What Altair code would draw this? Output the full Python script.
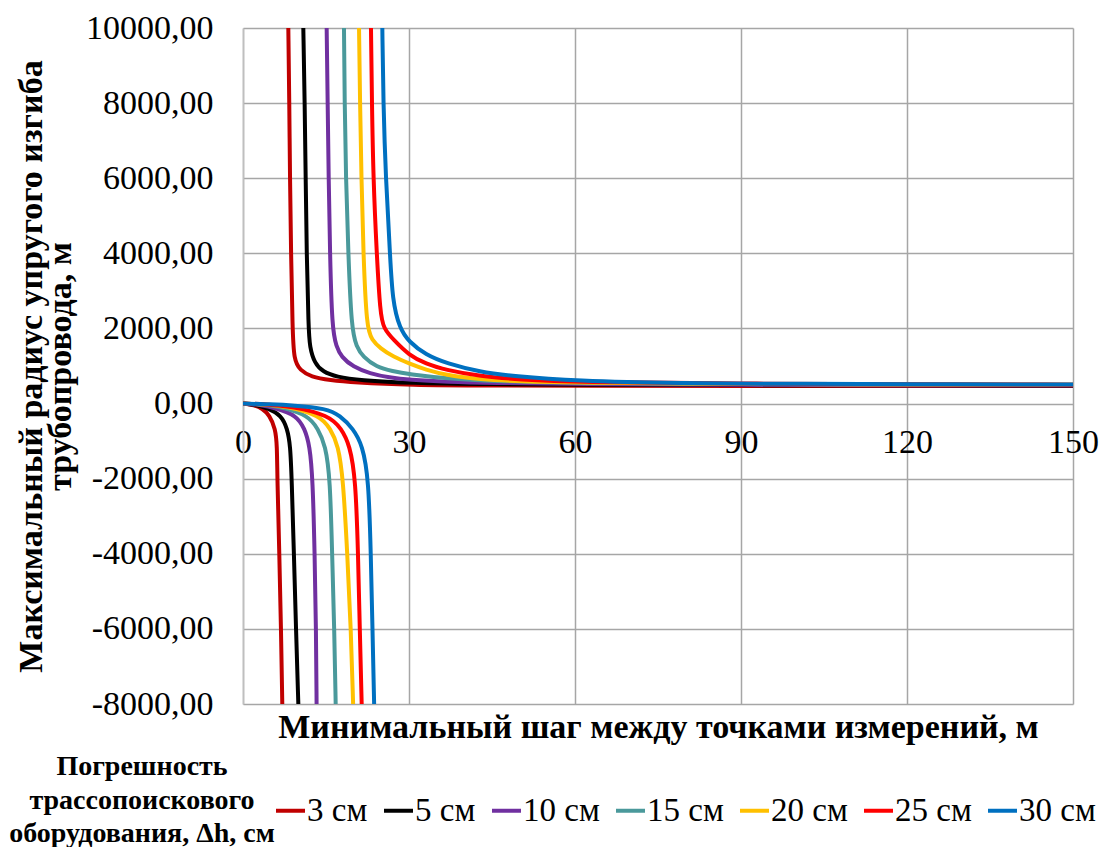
import altair as alt
import pandas as pd

# Series: measurement error of the pipe-locating equipment, Δh
series_names = ["3 см", "5 см", "10 см", "15 см", "20 см", "25 см", "30 см"]
series_colors = ["#C00000", "#000000", "#7030A0", "#4A999B", "#FFC000", "#FF0000", "#0070C0"]
legend_title = "Погрешность\nтрассопоискового\nоборудования, Δh, см"

# Lower branch (step below the critical value, negative radius)
neg_x_3 = [0, 2.0, 3.5, 4.8, 5.85, 6.15, 6.2, 6.57, 6.87, 7.1]
neg_y_3 = [0, -40, -130, -312, -667, -1112, -2000, -4000, -6000, -8000]
neg_x_5 = [0, 2.5, 4.5, 6.93, 8.0, 8.55, 8.8, 9.2, 9.58, 10.0]
neg_y_5 = [0, -33, -127, -312, -667, -1112, -2000, -4000, -6000, -8000]
neg_x_10 = [0, 3, 6, 9.64, 11.15, 12.05, 12.6, 12.95, 13.2, 13.3]
neg_y_10 = [0, -26, -123, -312, -667, -1112, -2000, -4000, -6000, -8000]
neg_x_15 = [0, 3, 7, 11.75, 13.55, 14.9, 15.75, 16.1, 16.5, 16.75]
neg_y_15 = [0, -15, -90, -312, -667, -1112, -2000, -4000, -6000, -8000]
neg_x_20 = [0, 4, 8, 13.85, 15.8, 17.2, 18.1, 18.85, 19.5, 19.9]
neg_y_20 = [0, -20, -80, -312, -667, -1112, -2000, -4000, -6000, -8000]
neg_x_25 = [0, 4, 9, 15.5, 17.8, 19.3, 20.35, 20.8, 21.1, 21.45]
neg_y_25 = [0, -15, -80, -312, -667, -1112, -2000, -4000, -6000, -8000]
neg_x_30 = [0, 5, 9, 15.1, 17.5, 19.9, 21.6, 22.7, 23.1, 23.4, 23.7]
neg_y_30 = [0, -20, -45, -133, -312, -667, -1112, -2000, -4000, -6000, -8000]

# Upper branch (step above the critical value, positive radius)
pos_x_3 = [8.19, 8.37, 8.49, 8.68, 8.95, 9.2, 10.3, 12.3, 15.7, 20, 30, 45, 60, 90, 120, 150]
pos_y_3 = [10000, 8000, 6000, 4000, 2000, 1150, 890, 710, 620, 560, 495, 480, 475, 470, 468, 466]
pos_x_5 = [10.9, 11.15, 11.33, 11.5, 11.85, 12.05, 12.95, 14.46, 16.9, 21.1, 30, 45, 60, 90, 120, 150]
pos_y_5 = [10000, 8000, 6000, 4000, 2000, 1510, 1067, 843, 710, 621, 545, 515, 500, 490, 485, 480]
pos_x_10 = [15.12, 15.3, 15.48, 15.72, 16.1, 16.87, 17.77, 19.9, 22.9, 26.5, 30, 37, 45, 60, 90, 120, 150]
pos_y_10 = [10000, 8000, 6000, 4000, 2000, 1510, 1243, 976, 800, 690, 630, 577, 550, 515, 497, 490, 486]
pos_x_15 = [18.25, 18.37, 18.6, 19.03, 19.6, 20.5, 21.7, 24.1, 27, 30, 36.8, 45, 60, 90, 120, 150]
pos_y_15 = [10000, 8000, 6000, 4000, 2000, 1510, 1243, 976, 860, 780, 666, 600, 545, 515, 505, 498]
pos_x_20 = [20.97, 21.15, 21.4, 21.75, 22.35, 23.3, 24.8, 27.2, 30, 33, 36.8, 42.8, 50, 60, 90, 120, 150]
pos_y_20 = [10000, 8000, 6000, 4000, 2000, 1700, 1467, 1243, 1067, 900, 755, 640, 590, 555, 520, 505, 498]
pos_x_25 = [23.13, 23.3, 23.55, 24.16, 24.8, 25.4, 27.2, 30, 33, 36.8, 42.8, 50, 60, 90, 120, 150]
pos_y_25 = [10000, 8000, 6000, 4000, 2400, 2000, 1700, 1288, 1060, 888, 728, 640, 570, 530, 512, 503]
pos_x_30 = [25.18, 25.36, 25.8, 26.57, 27.0, 28.3, 30, 33, 36.8, 42.8, 48.9, 60, 79, 100, 120, 150]
pos_y_30 = [10000, 8000, 6000, 4000, 2750, 2000, 1643, 1300, 1067, 843, 728, 605, 540, 525, 515, 507]

branches = [
    ("3 см", neg_x_3, neg_y_3, pos_x_3, pos_y_3),
    ("5 см", neg_x_5, neg_y_5, pos_x_5, pos_y_5),
    ("10 см", neg_x_10, neg_y_10, pos_x_10, pos_y_10),
    ("15 см", neg_x_15, neg_y_15, pos_x_15, pos_y_15),
    ("20 см", neg_x_20, neg_y_20, pos_x_20, pos_y_20),
    ("25 см", neg_x_25, neg_y_25, pos_x_25, pos_y_25),
    ("30 см", neg_x_30, neg_y_30, pos_x_30, pos_y_30),
]

rows = []
for name, nx, ny, px, py in branches:
    for x, y in zip(nx, ny):
        rows.append({"series": name, "branch": name + " neg", "x": x, "y": y})
    for x, y in zip(px, py):
        rows.append({"series": name, "branch": name + " pos", "x": x, "y": y})
df = pd.DataFrame(rows)

x_ticks = [0, 30, 60, 90, 120, 150]
y_ticks = [-8000, -6000, -4000, -2000, 0, 2000, 4000, 6000, 8000, 10000]

FONT = "Times New Roman, Liberation Serif, DejaVu Serif, serif"
GRID = "#A6A6A6"

lines = alt.Chart(df).mark_line(interpolate="basis", strokeWidth=4, clip=True).encode(
    x=alt.X(
        "x:Q",
        scale=alt.Scale(domain=[0, 150], nice=False, zero=False),
        axis=alt.Axis(
            values=x_ticks, format="d", offset=-300, ticks=False, tickSize=0, domain=False,
            grid=True, gridColor=GRID, gridWidth=1.5,
            labelFont=FONT, labelFontSize=34, labelColor="black", labelPadding=21,
            labelFlush=False, labelOverlap=False,
            title="Минимальный шаг между точками измерений, м",
            titleFont=FONT, titleFontSize=34, titleFontWeight="bold", titleColor="black",
            titleY=323, titleBaseline="middle",
        ),
    ),
    y=alt.Y(
        "y:Q",
        scale=alt.Scale(domain=[-8000, 10000], nice=False, zero=False),
        axis=alt.Axis(
            values=y_ticks, ticks=False, tickSize=0, domain=True, domainColor="#BFBFBF", domainWidth=1.5,
            grid=True, gridColor=GRID, gridWidth=1.5,
            labelExpr="(datum.value < 0 ? '-' : '') + replace(format(abs(datum.value), '.2f'), '.', ',')",
            labelFont=FONT, labelFontSize=34, labelColor="black", labelPadding=30,
            title=["Максимальный радиус упругого изгиба", "трубопровода, м"],
            titleFont=FONT, titleFontSize=34, titleFontWeight="bold", titleColor="black",
            titleLineHeight=29, titleAngle=270, titleX=-212, titleY=338,
            titleAlign="center", titleBaseline="middle",
        ),
    ),
    color=alt.Color(
        "series:N",
        sort=series_names,
        scale=alt.Scale(domain=series_names, range=series_colors),
        legend=alt.Legend(
            title=None,
            orient="none", legendX=31, legendY=766, direction="horizontal", padding=0,
            labelFont=FONT, labelFontSize=33, labelColor="black", labelOffset=0, labelLimit=300,
            symbolType="stroke", symbolSize=841, symbolStrokeWidth=4, columnPadding=8,
        ),
    ),
    detail="branch:N",
)

# Legend heading, placed to the left of the legend entries
heading = alt.Chart(pd.DataFrame({"label": [legend_title]})).mark_text(
    font=FONT, fontSize=28, fontWeight="bold", color="black",
    align="center", baseline="middle", lineBreak="\n", lineHeight=33.5,
).encode(
    text="label:N",
    x=alt.value(-101),
    y=alt.value(739),
)

chart = alt.layer(lines, heading).properties(
    width=830,
    height=676,
    autosize=alt.AutoSizeParams(type="none"),
    padding={"left": 243, "top": 28, "right": 36, "bottom": 143},
).configure_view(stroke=None)

chart.save("out.html", embed_options={"renderer": "svg", "actions": False})
